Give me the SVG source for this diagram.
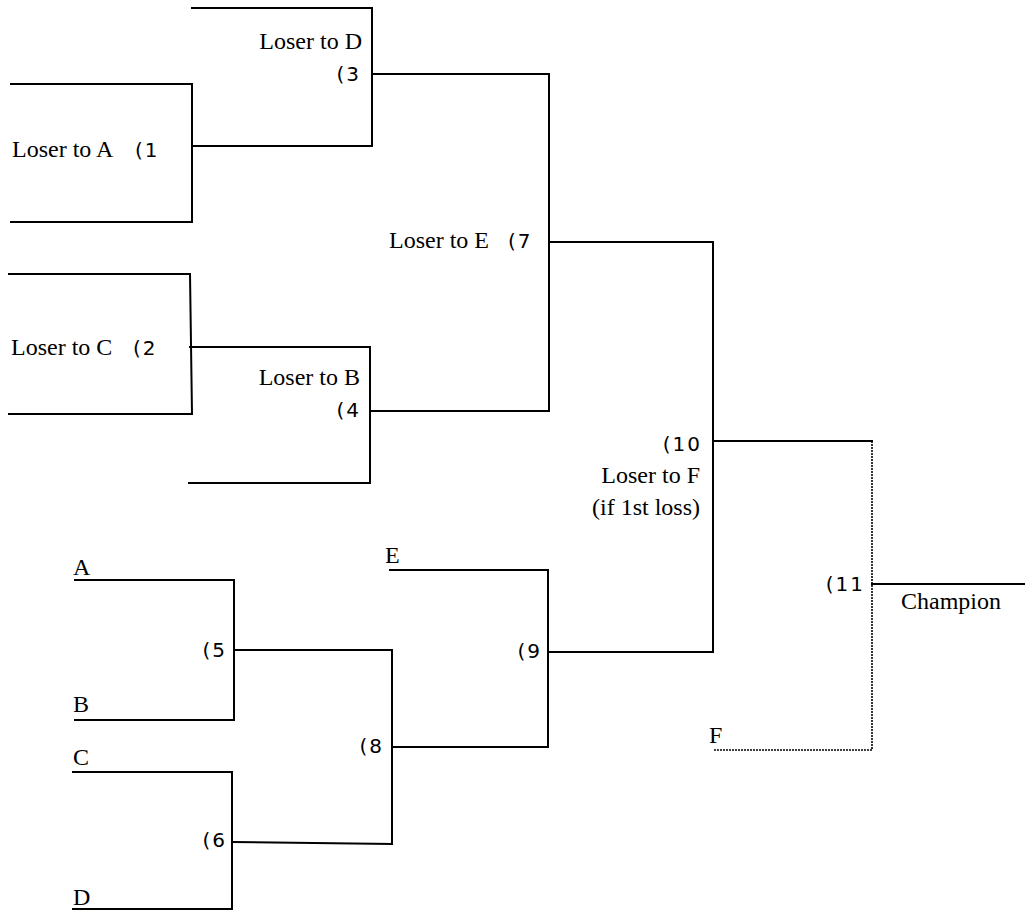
<svg xmlns="http://www.w3.org/2000/svg" width="1025" height="911" viewBox="0 0 1025 911">
<style>
.ln{stroke:#000;stroke-width:2;fill:none;stroke-linecap:square}
.dt{stroke:#000;stroke-width:1.6;fill:none;stroke-dasharray:2 1}
.t{font-family:"Liberation Serif","Times New Roman",serif;font-size:24px;fill:#000}
.n{font-family:"DejaVu Sans","Noto Sans",sans-serif;font-size:20px;fill:#000;letter-spacing:2px}
.e{text-anchor:end}
</style>
<rect width="1025" height="911" fill="#fff"/>
<g id="connectors">
<polyline class="ln" points="11,84 192,84 192,222 11,222"/>
<polyline class="ln" points="192,8 372,8 372,146 192,146"/>
<line class="ln" x1="372" y1="74" x2="549" y2="74"/>
<polyline class="ln" points="9,274 190,274 192,414 9,414"/>
<polyline class="ln" points="190,347 370,347 370,483 189,483"/>
<line class="ln" x1="370" y1="411" x2="549" y2="411"/>
<line class="ln" x1="549" y1="74" x2="549" y2="411"/>
<line class="ln" x1="549" y1="242" x2="713" y2="242"/>
<line class="ln" x1="713" y1="242" x2="713" y2="652"/>
<line class="ln" x1="713" y1="441" x2="872" y2="441"/>
<polyline class="ln" points="75,580 234,580 234,720 75,720"/>
<polyline class="ln" points="73,772 232,772 232,909 73,909"/>
<line class="ln" x1="234" y1="650" x2="392" y2="650"/>
<line class="ln" x1="232" y1="842" x2="392" y2="844"/>
<line class="ln" x1="392" y1="650" x2="392" y2="844"/>
<line class="ln" x1="392" y1="747" x2="548" y2="747"/>
<polyline class="ln" points="390,570 548,570 548,747"/>
<line class="ln" x1="548" y1="652" x2="713" y2="652"/>
<polyline class="dt" points="872,441 872,750 713,750"/>
<line class="ln" x1="872" y1="584" x2="1025" y2="584"/>
</g>
<g id="game1"><text class="t" x="12" y="157">Loser to A</text><text class="n" x="135" y="157">(1</text></g>
<g id="game2"><text class="t" x="11" y="355">Loser to C</text><text class="n" x="133" y="355">(2</text></g>
<g id="game3"><text class="t e" x="362" y="49">Loser to D</text><text class="n e" x="361" y="81">(3</text></g>
<g id="game4"><text class="t e" x="360" y="385">Loser to B</text><text class="n e" x="361" y="417">(4</text></g>
<g id="game5"><text class="n e" x="227" y="657">(5</text></g>
<g id="game6"><text class="n e" x="227" y="847">(6</text></g>
<g id="game7"><text class="t" x="389" y="248">Loser to E</text><text class="n" x="508" y="248">(7</text></g>
<g id="game8"><text class="n e" x="384" y="753">(8</text></g>
<g id="game9"><text class="n e" x="542" y="658">(9</text></g>
<g id="game10"><text class="n e" x="702" y="451">(10</text><text class="t e" x="700" y="483">Loser to F</text><text class="t e" x="700" y="515">(if 1st loss)</text></g>
<g id="game11"><text class="n e" x="865" y="591">(11</text><text class="t" x="901" y="609">Champion</text></g>
<g id="teamA"><text class="t" x="73" y="575">A</text></g>
<g id="teamB"><text class="t" x="73" y="712">B</text></g>
<g id="teamC"><text class="t" x="73" y="765">C</text></g>
<g id="teamD"><text class="t" x="73" y="905">D</text></g>
<g id="teamE"><text class="t" x="385" y="563">E</text></g>
<g id="teamF"><text class="t" x="709" y="743">F</text></g>
</svg>
